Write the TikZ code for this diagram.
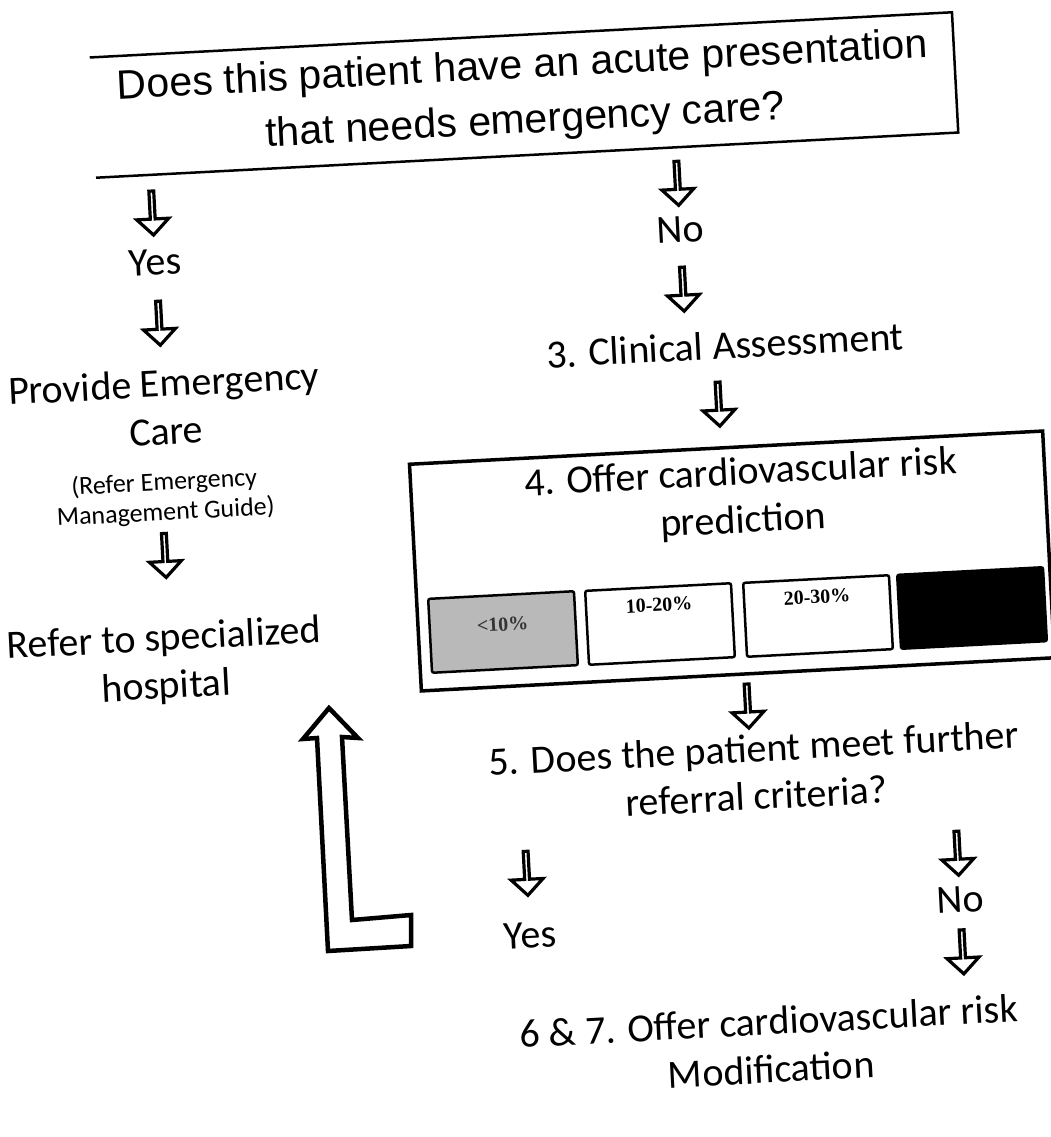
\documentclass[tikz,border=0pt]{standalone}
\usepackage{fontspec}
\setmainfont{Carlito}
\newfontfamily\arialfont{Liberation Sans}
\newfontfamily\serifbox{Liberation Serif}
\usetikzlibrary{calc,positioning,shapes.arrows}
\tikzset{
  big/.style={font=\fontsize{40}{48}\selectfont, align=center, rotate=3, inner sep=0pt},
  small/.style={font=\fontsize{26}{30}\selectfont, align=center, rotate=3, inner sep=0pt},
  dnarrow/.style={single arrow, draw, line width=3.2pt, fill=white, rotate=-87,
    minimum height=44pt, minimum width=32pt, single arrow head extend=9pt, inner sep=0pt},
  blk/.style={to path={-- node[dnarrow, pos=#1]{} (\tikztotarget)}},
  blk/.default=.5,
  outerbox/.style={draw, line width=3.5pt, rotate=3, inner sep=0pt},
  riskbox/.style={draw, line width=2.5pt, rotate=3, minimum width=146pt,
    minimum height=74pt, inner sep=0pt, rounded corners=2pt},
  risktxt/.style={font=\serifbox\bfseries\fontsize{20}{24}\selectfont, rotate=3, inner sep=0pt}
}
\begin{document}
\begin{tikzpicture}[x=1pt, y=-1pt]
\useasboundingbox (0,0) rectangle (1050,1137);

% question box (left side open)
\node[rotate=3, minimum width=863pt, minimum height=120pt, inner sep=0pt,
      font=\arialfont\fontsize{41}{55}\selectfont, align=center] (acute) at (524,95)
  {Does this patient have an acute presentation\\that needs emergency care?};
\draw[line width=2.5pt] (acute.north west) -- (acute.north east)
  -- (acute.south east) -- (acute.south west);

% left column
\node[big] (yesA)  at (155,262) {Yes};
\node[big] (care)  at (165,407) {Provide Emergency\\Care};
\node[small] (guide) at (165,498) {(Refer Emergency\\Management Guide)};
\node[big] (hosp)  at (165,664) {Refer to specialized\\hospital};

% right column
\node[big] (noA)   at (680,230) {No};
\node[big] (clin)  at (725,345) {3. Clinical Assessment};
\node[outerbox, minimum width=634pt, minimum height=227pt] (pred) at (732,561) {};
\node[big] (predt) at (742,498) {4. Offer cardiovascular risk\\prediction};

% risk bands
\node[riskbox, fill=gray!55] (r1) at (503,632) {};
\node[riskbox] (r2) at (660,624) {};
\node[riskbox] (r3) at (818,616) {};
\node[riskbox, fill=black] (r4) at (972,608) {};
\node[risktxt, text=black!80] at ($(r1.center)!.2!(r1.north)$) {<10\%};
\node[risktxt] at ($(r2.center)!.5!(r2.north)$) {10-20\%};
\node[risktxt] at ($(r3.center)!.5!(r3.north)$) {20-30\%};

\node[big] (meet)  at (755,772) {5. Does the patient meet further\\referral criteria?};
\node[big] (yesB)  at (530,935) {Yes};
\node[big] (noB)   at (960,900) {No};
\node[big] (mod)   at (770,1045) {6 \& 7. Offer cardiovascular risk\\Modification};

% small block arrows
\path[blk] ($(acute.south west)!(yesA)!(acute.south east)$) to (yesA);
\path[blk] ($(acute.south west)!(noA)!(acute.south east)$) to (noA);
\path[blk] (yesA) to (care);
\path[blk=.3] (guide) to (hosp);
\path[blk] (noA) to ($(clin.north west)!(noA)!(clin.north east)$);
\path[blk] ($(clin.south west)!.47!(clin.south east)$) to (pred);
\path[blk] (pred) to (meet);
\path[blk] ($(meet.south west)!(yesB)!(meet.south east)$) to (yesB);
\path[blk=.6] ($(meet.south west)!(noB)!(meet.south east)$) to (noB);
\path[blk=.45] (noB) to ($(mod.north west)!(noB)!(mod.north east)$);

% big return arrow
\draw[line width=4.5pt] (329,708) -- (358,738) -- (342,737) -- (352,920)
  -- (411,915) -- (411,946) -- (328,951) -- (317,738) -- (303,739) -- cycle;

\end{tikzpicture}
\end{document}
